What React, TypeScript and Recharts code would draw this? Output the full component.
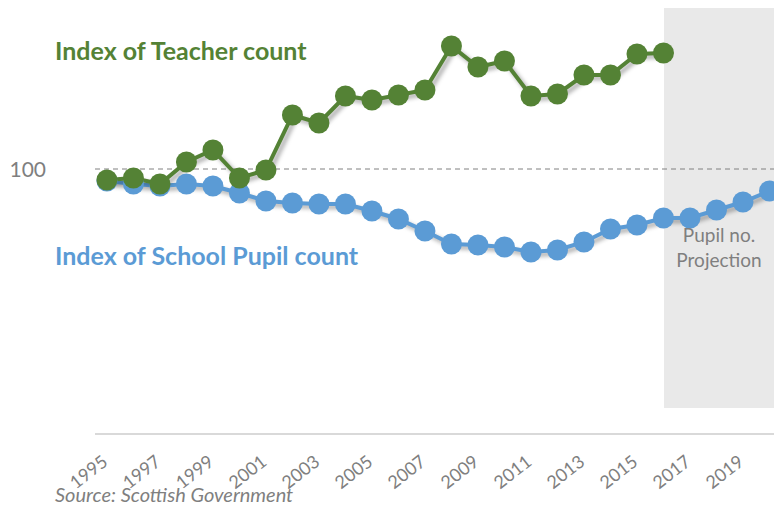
import { LineChart, Line, XAxis, YAxis, ReferenceLine, ReferenceArea } from 'recharts';

const years = [
  1995, 1996, 1997, 1998, 1999, 2000, 2001, 2002, 2003, 2004, 2005, 2006, 2007,
  2008, 2009, 2010, 2011, 2012, 2013, 2014, 2015, 2016, 2017, 2018, 2019, 2020
];

// index of teacher count (ends 2016)
const teacherIndex = [
  98.9, 99.1, 98.5, 100.7, 101.9, 99.1, 99.9, 105.4, 104.6, 107.3, 106.9, 107.4,
  107.9, 112.3, 110.2, 110.8, 107.3, 107.5, 109.4, 109.4, 111.5, 111.6
];

// index of school pupil count (2017 on is projection)
const pupilIndex = [
  98.8, 98.5, 98.3, 98.5, 98.3, 97.6, 96.8, 96.6, 96.5, 96.5, 95.8, 95.0, 93.8,
  92.5, 92.4, 92.2, 91.7, 91.9, 92.7, 94.0, 94.4, 95.1, 95.1, 95.9, 96.7, 97.8
];

const tickYears = [1995, 1997, 1999, 2001, 2003, 2005, 2007, 2009, 2011, 2013, 2015, 2017, 2019];

const data = years.map((year, i) => ({
  year,
  teacher: teacherIndex[i],
  pupil: pupilIndex[i]
}));

const GREEN = '#548235';
const BLUE = '#5b9bd5';
const GREY_TEXT = '#7f7f7f';
const FONT = 'Lato, "Open Sans", sans-serif';

const YearTick = ({ x, y, payload }: any) => (
  <text
    x={x + 2}
    y={y + 22}
    textAnchor="end"
    fill={GREY_TEXT}
    fontSize={18}
    fontFamily={FONT}
    transform={`rotate(-38, ${x + 2}, ${y + 22})`}
  >
    {payload.value}
  </text>
);

const ValueTick = ({ y, payload }: any) => (
  <text x={46} y={y + 8} textAnchor="end" fill={GREY_TEXT} fontSize={21} fontFamily={FONT}>
    {payload.value}
  </text>
);

export default function App() {
  return (
    <div style={{ position: 'absolute', left: 0, top: 0, width: 774, height: 507, background: '#fff', fontFamily: FONT }}>
      <style>{`.recharts-line { filter: drop-shadow(3px 3px 2px rgba(0,0,0,0.35)); }`}</style>
      <LineChart width={774} height={507} data={data} margin={{ top: 8, right: 0, bottom: 0, left: 0 }}>
        <XAxis
          type="number"
          dataKey="year"
          domain={[1994.55, 2020.17]}
          ticks={tickYears}
          interval={0}
          allowDataOverflow
          height={73}
          tickLine={false}
          axisLine={{ stroke: '#d9d9d9', strokeWidth: 2 }}
          tick={<YearTick />}
        />
        <YAxis
          type="number"
          domain={[73.5, 116.1]}
          ticks={[100]}
          allowDataOverflow
          width={95}
          tickLine={false}
          axisLine={false}
          tick={<ValueTick />}
        />
        <ReferenceArea
          x1={2016.02}
          x2={2020.17}
          y1={76.1}
          y2={116.1}
          fill="#e9e9e9"
          fillOpacity={1}
          stroke="none"
          ifOverflow="hidden"
        />
        <ReferenceLine y={100} stroke="#808080" strokeDasharray="5 4" strokeWidth={1} />
        <Line
          type="linear"
          dataKey="pupil"
          stroke={BLUE}
          strokeWidth={4}
          dot={{ r: 10.5, fill: BLUE, stroke: 'none' }}
          isAnimationActive={false}
        />
        <Line
          type="linear"
          dataKey="teacher"
          stroke={GREEN}
          strokeWidth={4}
          dot={{ r: 10.5, fill: GREEN, stroke: 'none' }}
          isAnimationActive={false}
        />
      </LineChart>
      <div style={{ position: 'absolute', left: 55, top: 35, color: GREEN, fontWeight: 700, fontSize: 25, whiteSpace: 'nowrap' }}>
        Index of Teacher count
      </div>
      <div style={{ position: 'absolute', left: 55, top: 240, color: BLUE, fontWeight: 700, fontSize: 25, whiteSpace: 'nowrap' }}>
        Index of School Pupil count
      </div>
      <div style={{ position: 'absolute', left: 664, width: 110, top: 222, color: GREY_TEXT, fontSize: 19, lineHeight: '25px', textAlign: 'center' }}>
        Pupil no.
        <br />
        Projection
      </div>
      <div style={{ position: 'absolute', left: 55, top: 482, color: GREY_TEXT, fontSize: 20, fontStyle: 'italic', whiteSpace: 'nowrap' }}>
        Source: Scottish Government
      </div>
    </div>
  );
}
